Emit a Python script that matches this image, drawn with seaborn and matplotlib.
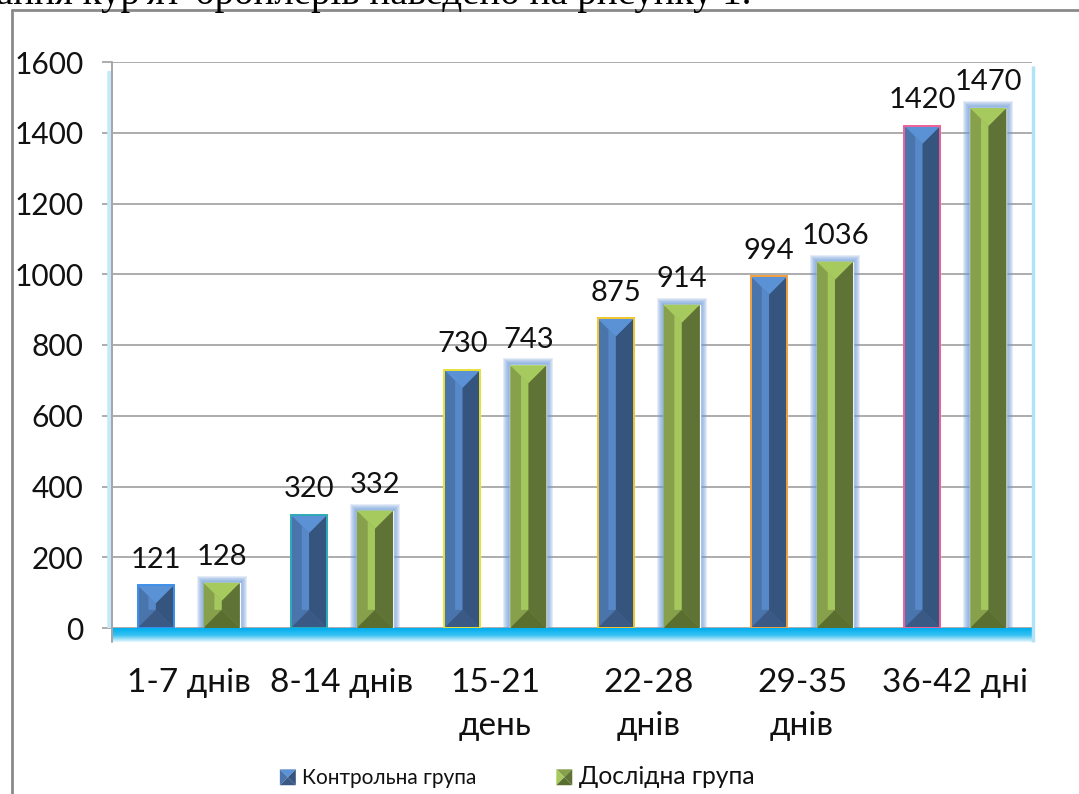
import numpy as np
import pandas as pd
import matplotlib
matplotlib.use("Agg")
import matplotlib.pyplot as plt
import seaborn as sns
from matplotlib.patches import Polygon, Rectangle
from matplotlib.legend_handler import HandlerBase
from matplotlib.lines import Line2D
from matplotlib.colors import LinearSegmentedColormap

# ---- data -------------------------------------------------------------
periods = ["1-7 днів", "8-14 днів", "15-21\nдень", "22-28\nднів", "29-35\nднів", "36-42 дні"]
control = [121, 320, 730, 875, 994, 1420]
experimental = [128, 332, 743, 914, 1036, 1470]
groups = ["Контрольна група", "Дослідна група"]
y_ticks = [0, 200, 400, 600, 800, 1000, 1200, 1400, 1600]
caption = "ання кур'ят-бройлерів наведено на рисунку 1."

df = pd.DataFrame({
    "period": periods * 2,
    "value": control + experimental,
    "group": [groups[0]] * len(periods) + [groups[1]] * len(periods),
})

# ---- styling -----------------------------------------------------------
BLUE = dict(top="#5b92d6", left="#4a75ac", strip="#5789c8", right="#35557f", bottom="#3b5985")
GREEN = dict(top="#a7ca5f", left="#87a04b", strip="#a4c85e", right="#5f7336", bottom="#5a6e30")
blue_edges = ["#3c8fe8", "#2fa9b8", "#e9e23a", "#f2c52e", "#f0a040", "#f0609a"]
GRID = "#a6a6a6"
TEXT = "#111111"

sns.set_theme(style="white")
plt.rcParams["font.family"] = ["Lato", "DejaVu Sans"]

W, H = 1079, 794
fig = plt.figure(figsize=(W / 100, H / 100), dpi=100)
ax = fig.add_axes([112 / W, 1 - 628 / H, 920 / W, 566 / H])

sns.barplot(data=df, x="period", y="value", hue="group", order=periods,
            hue_order=groups, palette=[BLUE["left"], GREEN["left"]],
            width=0.86, gap=0.45, saturation=1, legend=False, ax=ax, zorder=3)

ax.set_xlim(-0.5, len(periods) - 0.5)
ax.set_ylim(0, 1600)

# data units per pixel
px_x = len(periods) / 920
px_y = 1600 / 566


def bevel(patch, col, edge=None):
    x0, w, h = patch.get_x(), patch.get_width(), patch.get_height()
    x1, xc = x0 + w, x0 + w / 2
    d = min((w / 2) / px_x * px_y, h / 2)
    sw = 0.2 * w
    polys = [
        ([(x0, h), (xc, h - d), (xc, d), (x0, 0)], col["left"]),
        ([(x1, h), (xc, h - d), (xc, d), (x1, 0)], col["right"]),
        ([(xc - sw, h - d + sw / px_x * px_y), (xc, h - d), (xc, d),
          (xc - sw, d)], col["strip"]),
        ([(x0, h), (x1, h), (xc, h - d)], col["top"]),
        ([(x0, 0), (x1, 0), (xc, d)], col["bottom"]),
    ]
    for pts, c in polys:
        ax.add_patch(Polygon(pts, closed=True, facecolor=c, edgecolor="none", zorder=4))
    if edge is not None:
        ax.add_patch(Rectangle((x0, 0), w, h, facecolor="none", edgecolor=edge,
                               lw=1.4, zorder=5))


def glow(patch):
    x0, w, h = patch.get_x(), patch.get_width(), patch.get_height()
    for k in range(7, 0, -1):
        ax.add_patch(Rectangle((x0 - k * px_x, 0), w + 2 * k * px_x, h + k * px_y,
                               facecolor="#6f9bd8", edgecolor="none", alpha=0.18, zorder=2.8))


blue_bars, green_bars = ax.containers[0], ax.containers[1]
for p, e in zip(blue_bars, blue_edges):
    bevel(p, BLUE, e)
for p in green_bars:
    glow(p)
    bevel(p, GREEN)

for cont in ax.containers:
    ax.bar_label(cont, fmt="%d", padding=9, fontsize=21, color=TEXT)

# floor, walls and axis line
floor_h = 14 * px_y
grad = np.linspace(0, 1, 64).reshape(-1, 1)
floor_cmap = LinearSegmentedColormap.from_list("floor", ["#00aeef", "#35c0f2", "#e8f7fd"])
ax.imshow(grad, extent=(-0.5, len(periods) - 0.5, -floor_h, 0), aspect="auto",
          cmap=floor_cmap, clip_on=False, zorder=1, interpolation="bilinear")
ax.set_xlim(-0.5, len(periods) - 0.5)
ax.set_ylim(0, 1600)

ax.plot([-0.5 - 2.5 * px_x] * 2, [0, 1575], color="#c4eafa", lw=4,
        clip_on=False, zorder=1, solid_capstyle="butt")
ax.plot([len(periods) - 0.5 + 1 * px_x] * 2, [-floor_h, 1590], color="#b2e2f8", lw=2.5,
        clip_on=False, zorder=1, solid_capstyle="butt")
ax.plot([-0.5, -0.5], [-floor_h, 1600], color=GRID, lw=1.4, clip_on=False, zorder=6)

for s in ax.spines.values():
    s.set_visible(False)

ax.yaxis.grid(True, color=GRID, lw=1.3, zorder=0)
ax.set_axisbelow(True)
ax.set_yticks(y_ticks)
ax.set_yticklabels([str(v) for v in y_ticks])
ax.tick_params(axis="y", left=True, length=7.5, width=1.3, color=GRID, pad=13,
               labelsize=21.5, labelcolor=TEXT)

ax.set_xticks(range(len(periods)))
ax.set_xticklabels(periods, linespacing=1.55)
ax.set_xticks(np.arange(-0.5, len(periods)), minor=True)
ax.tick_params(axis="x", which="major", length=0, pad=29, labelsize=24, labelcolor=TEXT)
ax.tick_params(axis="x", which="minor", bottom=True, length=10, width=1.3, color=GRID)
ax.set_xlabel("")
ax.set_ylabel("")


# ---- legend with bevelled square markers --------------------------------
class PyramidHandler(HandlerBase):
    def __init__(self, light, dark, top, bottom):
        super().__init__()
        self.cols = (top, light, dark, bottom)

    def create_artists(self, legend, orig_handle, xdescent, ydescent, width, height,
                       fontsize, trans):
        s = min(width, height)
        x0 = -xdescent + (width - s) / 2
        y0 = -ydescent + (height - s) / 2
        cx, cy = x0 + s / 2, y0 + s / 2
        tris = [
            [(x0, y0 + s), (x0 + s, y0 + s), (cx, cy)],
            [(x0, y0), (x0, y0 + s), (cx, cy)],
            [(x0 + s, y0), (x0 + s, y0 + s), (cx, cy)],
            [(x0, y0), (x0 + s, y0), (cx, cy)],
        ]
        return [Polygon(t, closed=True, facecolor=c, edgecolor="none", transform=trans)
                for t, c in zip(tris, self.cols)]


h_blue = Rectangle((0, 0), 1, 1)
h_green = Rectangle((0, 0), 1, 1)
leg = fig.legend(
    [h_blue, h_green], groups,
    handler_map={
        h_blue: PyramidHandler(BLUE["left"], BLUE["right"], BLUE["top"], BLUE["bottom"]),
        h_green: PyramidHandler(GREEN["top"], GREEN["right"], GREEN["left"], GREEN["bottom"]),
    },
    loc="center", bbox_to_anchor=(517 / W, 1 - 777 / H), ncol=2, frameon=False,
    fontsize=15, handlelength=0.8, handleheight=0.8, handletextpad=0.3,
    columnspacing=3.8, borderpad=0, borderaxespad=0,
)
leg.get_texts()[1].set_fontsize(17.7)
for t in leg.get_texts():
    t.set_color(TEXT)

# ---- page frame and caption line ---------------------------------------
fig.add_artist(Line2D([12 / W, 12 / W], [-0.05, 1 - 10 / H], color="#8a8a8a", lw=2))
fig.add_artist(Line2D([12 / W, 1.02], [1 - 10 / H, 1 - 10 / H], color="#8a8a8a", lw=2))
fig.text(-0.004, 1 - 4 / H, caption, family="Liberation Serif", fontsize=28,
         va="baseline", ha="left", color="#000000")

fig.savefig("out.png", dpi=100, facecolor="white")
